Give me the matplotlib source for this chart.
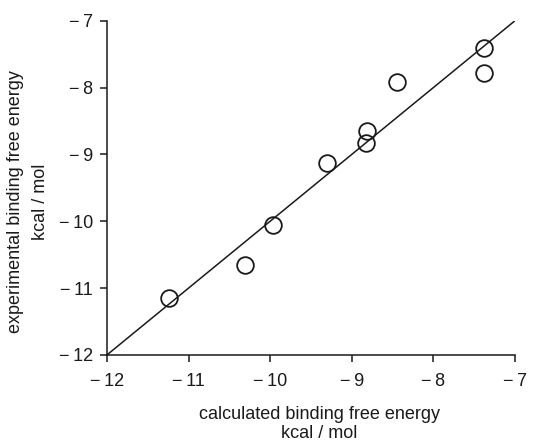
import numpy as np
import matplotlib
matplotlib.use('Agg')
import matplotlib.pyplot as plt
from matplotlib.ticker import FuncFormatter

plt.rcParams['font.family'] = ['Liberation Sans', 'DejaVu Sans']

# calculated vs experimental binding free energy (kcal/mol)
calc = [-11.24, -10.31, -9.97, -9.30, -8.81, -8.82, -8.45, -7.38, -7.38]
expt = [-11.15, -10.65, -10.05, -9.135, -8.65, -8.835, -7.915, -7.41, -7.775]
ticks = [-12, -11, -10, -9, -8, -7]

fig = plt.figure(figsize=(5.38, 4.43), dpi=100)
ax = fig.add_axes([0.199, 0.199, 0.758, 0.754])

# identity line
ax.plot([-12, -7], [-12, -7], color='#1a1a1a', lw=1.1, zorder=2)
ax.plot(calc, expt, 'o', ms=12, mfc='none', mec='#1a1a1a', mew=1.3, zorder=3, clip_on=False)

ax.set_xlim(-12, -7)
ax.set_ylim(-12, -7)
ax.set_xticks(ticks)
ax.set_yticks(ticks)
fmt = FuncFormatter(lambda v, p: '\u2212\u2009%d' % abs(v))
ax.xaxis.set_major_formatter(fmt)
ax.yaxis.set_major_formatter(fmt)

for s in ['top', 'right']:
    ax.spines[s].set_visible(False)
for s in ['left', 'bottom']:
    ax.spines[s].set_linewidth(1.1)
    ax.spines[s].set_color('#1a1a1a')

ax.tick_params(direction='out', length=5, width=1.1, color='#1a1a1a',
               labelsize=13, labelcolor='#1a1a1a', pad=5)
ax.tick_params(axis='x', pad=8)

ax.set_xlabel('calculated binding free energy\nkcal / mol', fontsize=13, color='#1a1a1a',
              linespacing=1.2)
ax.set_ylabel('experimental binding free energy\nkcal / mol', fontsize=13, color='#1a1a1a',
              linespacing=1.6)
ax.xaxis.set_label_coords(0.52, -0.152, transform=ax.transAxes)
ax.xaxis.label.set_va('top')
ax.yaxis.set_label_coords(-0.193, 0.458, transform=ax.transAxes)
ax.yaxis.label.set_va('center')

fig.savefig('out.png', dpi=100)
